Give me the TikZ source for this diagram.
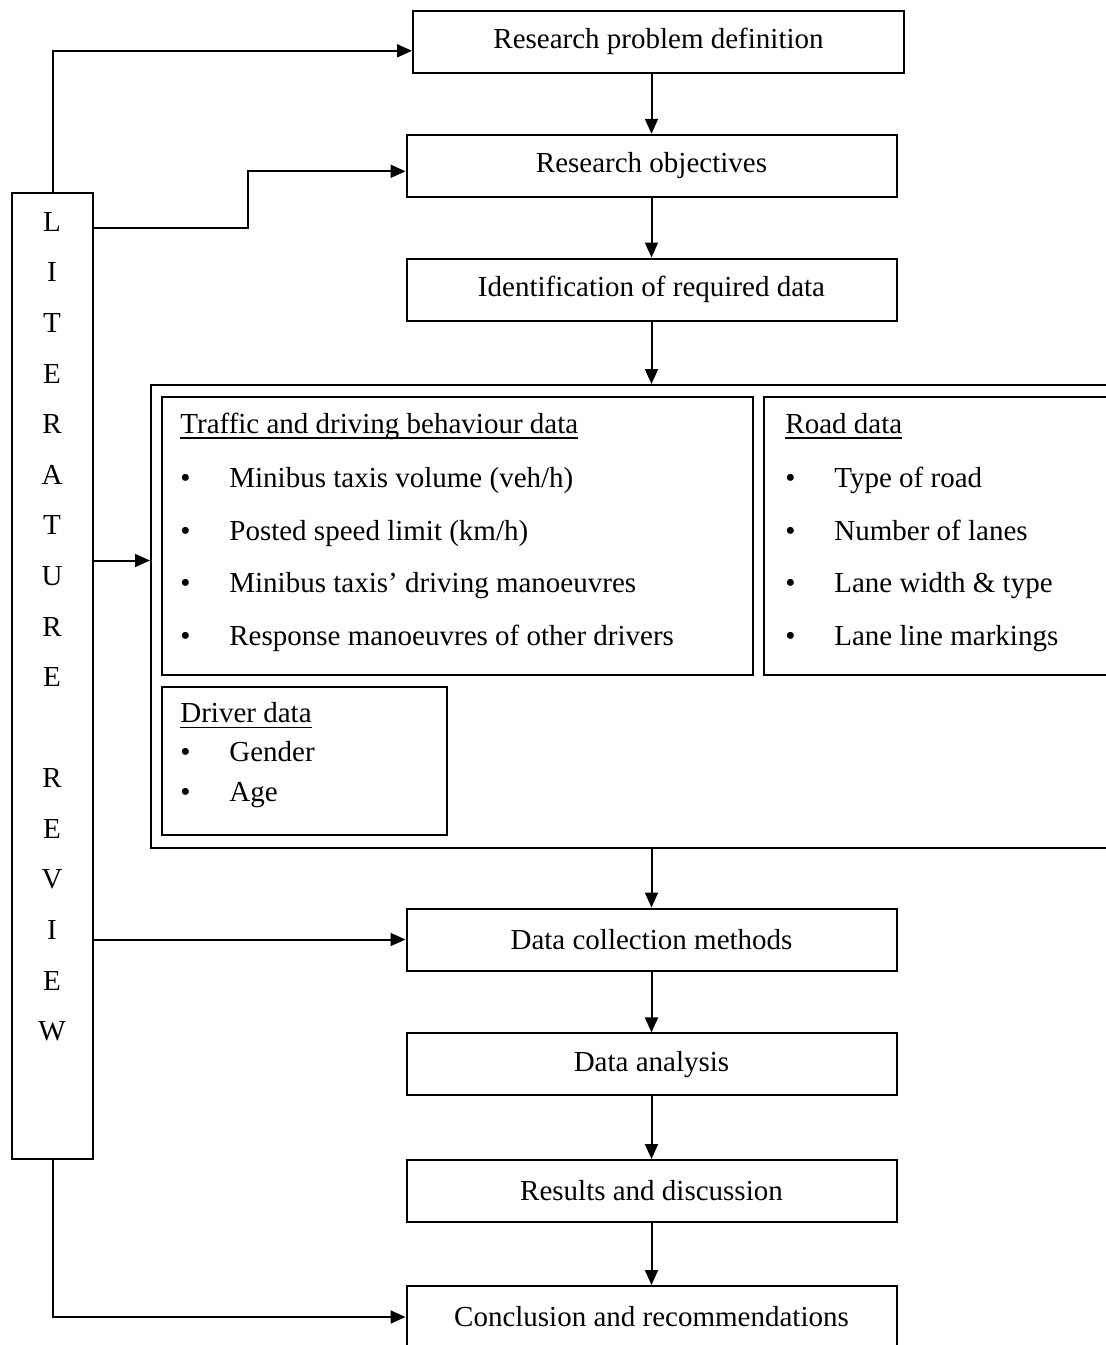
\documentclass[tikz,border=0pt]{standalone}
\usepackage{fontspec}
\setmainfont{Liberation Serif}
\usetikzlibrary{arrows.meta,positioning,calc}

\tikzset{
  stepbox/.style={draw,line width=1pt,minimum width=245pt,minimum height=31pt,inner sep=0pt},
  groupbox/.style={draw,line width=1pt,inner sep=0pt},
  flow/.style={line width=1pt,-{Triangle[length=7.5pt,width=6.5pt]}},
  itemtext/.style={anchor=base west,inner sep=0pt},
  letter/.style={inner sep=0pt},
}
\newcommand{\bul}[1]{\makebox[24.5pt][l]{\textbullet}#1}
\newcommand{\ulhead}[1]{\setbox0\hbox{#1}\rlap{\rule[-2.8pt]{\wd0}{0.6pt}}\box0}

\begin{document}
\begin{tikzpicture}[x=0.5pt,y=-0.5pt,font=\fontsize{14.5}{17}\selectfont]
  \useasboundingbox (0,0) rectangle (1106,1345);
  \clip (0,0) rectangle (1106,1345);

  % main steps
  \node[stepbox,minimum width=245.5pt] (prob) at (658.5,41.8) {Research problem definition};
  \node[stepbox] (obj) at (651.5,165.8) {Research objectives};
  \node[stepbox] (ident) at (651.5,289.5) {Identification of required data};
  \node[stepbox] (coll) at (651.5,939.5) {Data collection methods};
  \node[stepbox] (anal) at (651.5,1064.4) {Data analysis};
  \node[stepbox] (res) at (651.5,1191) {Results and discussion};
  \node[stepbox] (concl) at (651.5,1317) {Conclusion and recommendations};

  % required data (runs past the right edge)
  \node[groupbox,minimum width=484.5pt,minimum height=231.5pt] (reqdata) at (635.5,616.5) {};
  \node[groupbox,minimum width=295.7pt,minimum height=139.2pt] (traffic) at (457.3,535.9) {};
  \node[groupbox,minimum width=178.3pt,minimum height=139.2pt] (road) at (941.8,535.9) {};
  \node[groupbox,minimum width=142.7pt,minimum height=74pt] (driver) at (304.3,761) {};

  \node[itemtext] (thead) at (180,433) {\ulhead{Traffic and driving behaviour data}};
  \node[itemtext] (t1) at (180,487) {\bul{Minibus taxis volume (veh/h)}};
  \node[itemtext] (t2) at (180,540) {\bul{Posted speed limit (km/h)}};
  \node[itemtext] (t3) at (180,592) {\bul{Minibus taxis’ driving manoeuvres}};
  \node[itemtext] (t4) at (180,645) {\bul{Response manoeuvres of other drivers}};

  \node[itemtext] (rhead) at (785,433) {\ulhead{Road data}};
  \node[itemtext] (r1) at (785,487) {\bul{Type of road}};
  \node[itemtext] (r2) at (785,540) {\bul{Number of lanes}};
  \node[itemtext] (r3) at (785,592) {\bul{Lane width \& type}};
  \node[itemtext] (r4) at (785,645) {\bul{Lane line markings}};

  \node[itemtext] (dhead) at (180,722.5) {\ulhead{Driver data}};
  \node[itemtext] (d1) at (180,761.5) {\bul{Gender}};
  \node[itemtext] (d2) at (180,801.5) {\bul{Age}};

  % literature review column
  \node[groupbox,minimum width=40.2pt,minimum height=483.2pt] (lit) at (52.5,675.9) {};
  \foreach \ch [count=\i from 0] in {L,I,T,E,R,A,T,U,R,E}
    \node[letter] (wa\i) at (52,{221.7+50.6*\i}) {\ch};
  \foreach \ch [count=\i from 11] in {R,E,V,I,E,W}
    \node[letter] (wb\i) at (52,{221.7+50.6*\i}) {\ch};

  % flow down the steps
  \draw[flow] (prob.south -| obj.north) -- (obj.north);
  \draw[flow] (obj.south) -- (ident.north);
  \draw[flow] (ident.south) -- (ident.south |- reqdata.north);
  \draw[flow] (coll.north |- reqdata.south) -- (coll.north);
  \draw[flow] (coll.south) -- (anal.north);
  \draw[flow] (anal.south) -- (res.north);
  \draw[flow] (res.south) -- (concl.north);

  % literature review feeds
  \coordinate (probin) at ($(prob.west)+(0,9)$);
  \coordinate (objin) at ($(obj.west)+(0,5.5)$);
  \coordinate (reqin) at ($(reqdata.west)+(0,-56)$);
  \draw[flow] (lit.north) |- (probin);
  \draw[flow] ($(lit.north east)+(0,36.3)$) -| ($(objin)+(-158,0)$) -- (objin);
  \draw[flow] (lit.east |- reqin) -- (reqin);
  \draw[flow] (lit.east |- coll.west) -- (coll.west);
  \draw[flow] (lit.south) |- (concl.west);
\end{tikzpicture}
\end{document}
